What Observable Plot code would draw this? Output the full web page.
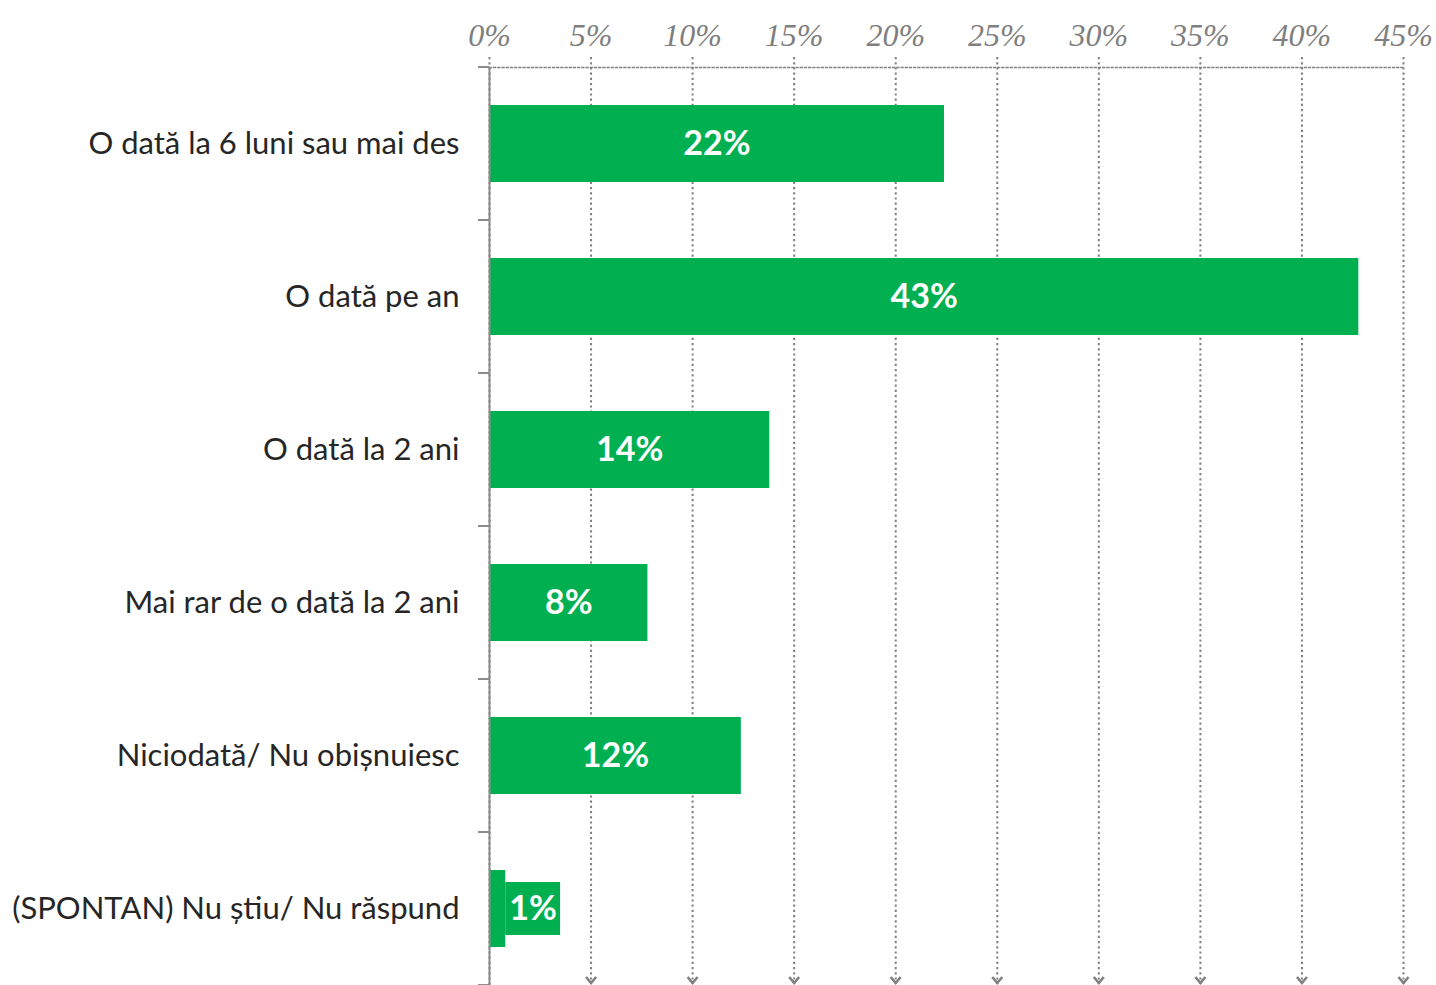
<!DOCTYPE html>
<html><head><meta charset="utf-8">
<script src="https://cdn.jsdelivr.net/npm/d3@7"></script>
<script src="https://cdn.jsdelivr.net/npm/@observablehq/plot@0.6"></script>
<style>body{margin:0;background:#fff} svg{overflow:visible}</style>
</head><body><div id="chart"></div>
<script>
const categories = [
  "O dată la 6 luni sau mai des",
  "O dată pe an",
  "O dată la 2 ani",
  "Mai rar de o dată la 2 ani",
  "Niciodată/ Nu obișnuiesc",
  "(SPONTAN) Nu știu/ Nu răspund"
];
const values = [22.4, 42.8, 13.8, 7.8, 12.4, 0.8];
const valueLabels = ["22%", "43%", "14%", "8%", "12%", "1%"];
const xTicks = [0, 5, 10, 15, 20, 25, 30, 35, 40, 45];

const data = categories.map((c, i) => ({category: c, value: values[i], label: valueLabels[i]}));
const SMALL = 3;    // bars narrower than this get their label outside, on a box
const BOX = 2.7;    // label box width, in % units
const inside = data.filter(d => d.value >= SMALL);
const outside = data.filter(d => d.value < SMALL);

const GREEN = "#00b050";
const GRID = "#808080";

function vArrow(color) {
  const m = d3.create("svg:marker")
    .attr("viewBox", "-8 -8 16 16")
    .attr("markerWidth", 16).attr("markerHeight", 16)
    .attr("markerUnits", "userSpaceOnUse")
    .attr("orient", "auto")
    .attr("fill", "none").attr("stroke", color)
    .attr("stroke-width", 2.6).attr("stroke-dasharray", "none");
  m.append("path").attr("d", "M-7,-5L-1,0L-7,5").attr("stroke-dasharray", "none");
  return m.node();
}

function bandTicks(index, scales, vals, dims) {
  const band = d3.scaleBand(categories, [dims.marginTop, dims.height - dims.marginBottom]);
  const ys = categories.map(c => band(c)).concat([band.range()[1]]);
  const x0 = scales.x(0);
  const g = d3.create("svg:g");
  g.selectAll("line").data(ys).join("line")
    .attr("x1", x0 - 11).attr("x2", x0)
    .attr("y1", d => d).attr("y2", d => d)
    .attr("stroke", "#8c8c8c").attr("stroke-width", 2);
  return g.node();
}

const chart = Plot.plot({
  width: 1436,
  height: 985,
  marginLeft: 489,
  marginRight: 33,
  marginTop: 67,
  marginBottom: 0,
  x: {domain: [0, 45], label: null},
  y: {domain: categories, padding: 0, label: null},
  marks: [
    Plot.ruleX(xTicks.filter(t => t > 0), {stroke: GRID, strokeWidth: 2, strokeDasharray: "2.2,3", insetTop: -10, insetBottom: 1, markerEnd: vArrow}),
    Plot.ruleX(xTicks.filter(t => t === 0), {stroke: GRID, strokeWidth: 2, strokeDasharray: "2.2,3", insetTop: -10}),
    Plot.frame({anchor: "top", stroke: GRID, strokeWidth: 1.3, strokeDasharray: "2,2.2"}),
    Plot.barX(data, {y: "category", x: "value", fill: GREEN, insetTop: 38, insetBottom: 38}),
    Plot.barX(outside, {y: "category", x1: "value", x2: d => d.value + BOX, fill: GREEN, insetTop: 50, insetBottom: 50}),
    Plot.ruleX([0], {stroke: "#8c8c8c", strokeWidth: 2}),
    bandTicks,
    Plot.text(inside, {x: d => d.value / 2, y: "category", text: "label", fill: "white", fontWeight: "bold", fontSize: 34, fontFamily: "Lato"}),
    Plot.text(outside, {x: d => d.value + BOX / 2, y: "category", text: "label", fill: "white", fontWeight: "bold", fontSize: 34, fontFamily: "Lato"}),
    Plot.axisY({tickSize: 0, tickPadding: 30, fontSize: 31, fontFamily: "Lato", fill: "#262626", label: null}),
    Plot.axisX(xTicks, {anchor: "top", tickSize: 0, tickPadding: 22, tickFormat: d => d + "%", fontSize: 32, fontStyle: "italic", fontFamily: "Liberation Serif", fill: "#7f7f7f", label: null})
  ]
});
document.getElementById("chart").append(chart);
</script>
</body></html>
